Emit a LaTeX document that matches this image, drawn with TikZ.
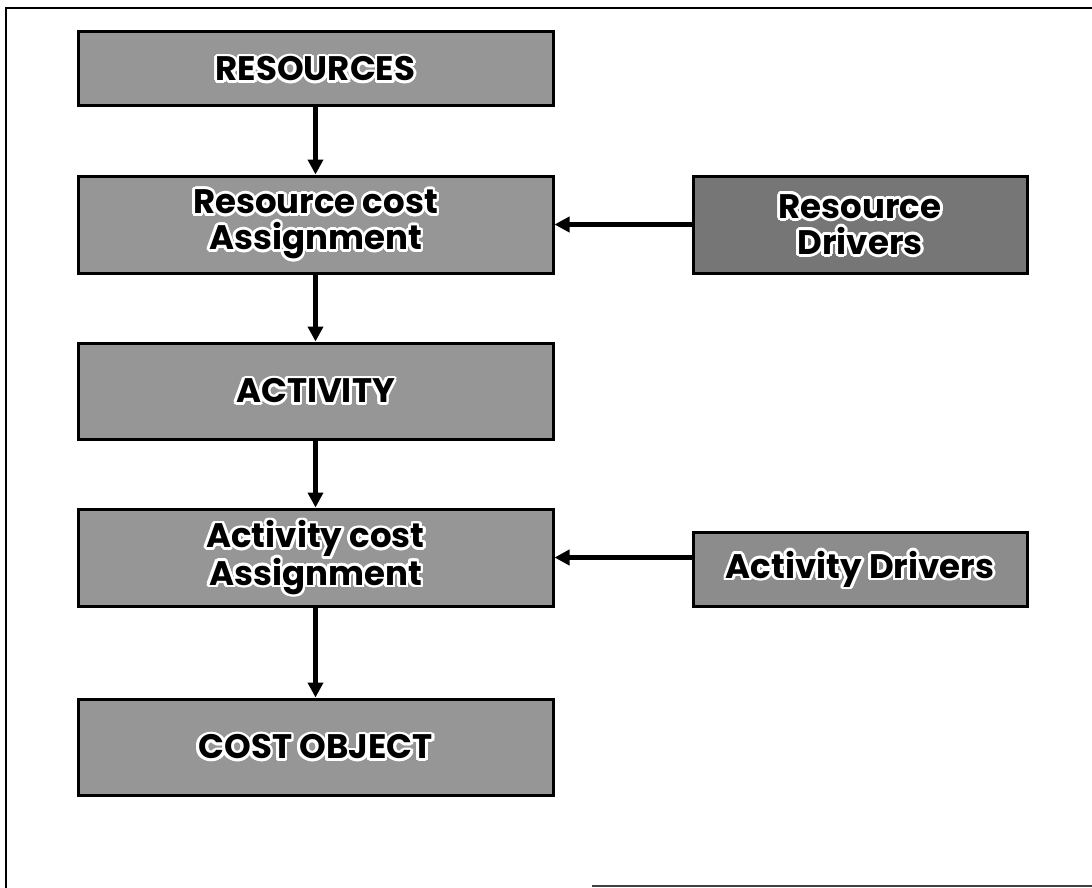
\documentclass[tikz,border=0pt]{standalone}
\usepackage{fontspec}
\usetikzlibrary{arrows.meta}
\newfontfamily\boxfont{Poppins}

\definecolor{boxgray}{RGB}{150,150,150}
\definecolor{darkgray}{RGB}{118,118,118}
\definecolor{midgray}{RGB}{140,140,140}

\tikzset{
  stage/.style={draw=black, line width=3pt, fill=boxgray, rectangle,
    inner sep=0pt, minimum width=475pt},
  driver/.style={stage, minimum width=334pt},
  caption/.style={inner sep=0pt, align=center, text=black,
    font=\boxfont\bfseries\fontsize{34}{36}\selectfont},
  flow/.style={line width=4.5pt, -{Triangle[length=15pt,width=15pt]}},
  frame/.style={line width=2.5pt}
}

% label with a white outline: white copies in a ring, black text on top
\newcommand\stagetext[2]{%
  \foreach \a [count=\i] in {0,22.5,...,337.5}
    \node[caption, text=white, shift={(\a:2.8)}] (#1-halo\i) at (#1.center) {#2};
  \node[caption] (#1-text) at (#1.center) {#2};
}

\begin{document}
\begin{tikzpicture}[x=1pt, y=-1pt]
  \useasboundingbox (0,0) rectangle (1092,888);

  % outer frame (left, top and the visible part of the bottom)
  \draw[frame] (6,888) -- (6,8) -- (1092,8);
  \draw[frame, black!75] (592,886) -- (1092,886);

  % main chain
  \node[stage, minimum height=74pt] (res) at (315.5,69) {};
  \node[stage, minimum height=97pt] (rca) at (315.5,224.5) {};
  \node[stage, minimum height=96pt] (act) at (315.5,391) {};
  \node[stage, minimum height=97pt] (aca) at (315.5,557.5) {};
  \node[stage, minimum height=96pt] (obj) at (315.5,747) {};

  % drivers
  \node[driver, fill=darkgray, minimum height=97pt] (rd) at (860,224.5) {};
  \node[driver, fill=midgray, minimum height=74pt] (ad) at (860,569) {};

  % labels
  \stagetext{res}{RESOURCES}
  \stagetext{rca}{Resource cost\\Assignment}
  \stagetext{act}{ACTIVITY}
  \stagetext{aca}{Activity cost\\Assignment}
  \stagetext{obj}{COST OBJECT}
  \stagetext{rd}{Resource\\Drivers}
  \stagetext{ad}{Activity Drivers}

  % connectors
  \draw[flow] (res) -- (rca);
  \draw[flow] (rca) -- (act);
  \draw[flow] (act) -- (aca);
  \draw[flow] (aca) -- (obj);
  \draw[flow] (rd) -- (rca);
  \draw[flow] (aca.east -| ad.west) -- (aca.east);
\end{tikzpicture}
\end{document}
